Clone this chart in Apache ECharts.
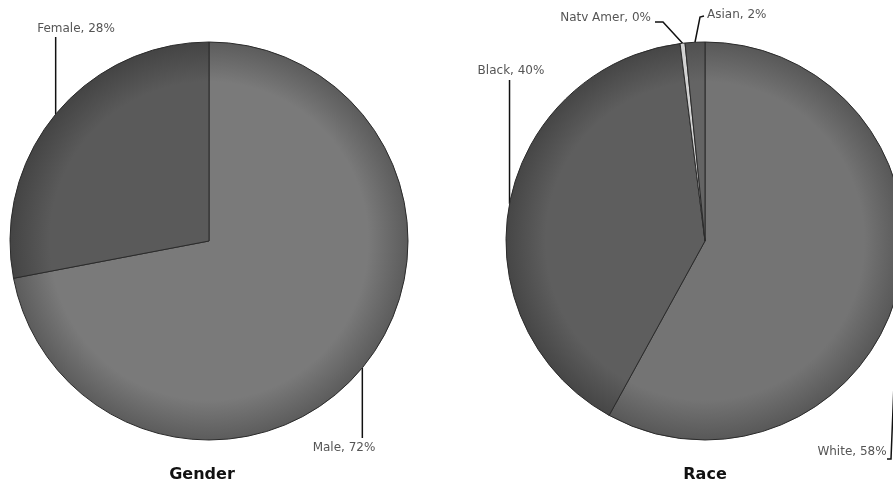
<!DOCTYPE html>
<html>
<head>
<meta charset="utf-8">
<script src="https://cdn.jsdelivr.net/npm/echarts@6/dist/echarts.min.js"></script>
<style>
  html, body { margin: 0; padding: 0; background: #fff; }
  #chart { width: 893px; height: 487px; }
</style>
</head>
<body>
<div id="chart"></div>
<script>
// data
var genderNames = ['Male', 'Female']
var genderValues = [72, 28]
var raceNames = ['White', 'Black', 'Natv Amer', 'Asian']
var raceValues = [58, 40, 0.4, 1.6]
var chartTitles = ['Gender', 'Race']

var myChart = echarts.init(document.getElementById('chart'))

// pie geometry
var centers = [[209, 241], [705, 241]]
var radius = 199

// where each label text sits and where its leader line bends (pixels), same order as the data
var labelSpots = [
  [
    { x: 344, y: 448, align: 'center', bend: function (e) { return [[e[0], 410], [e[0], 438]] } },
    { x: 76, y: 29, align: 'center', bend: function (e) { return [[e[0], 70], [e[0], 37]] } }
  ],
  [
    { x: 852, y: 452, align: 'center', bend: function (e) { return [[891, 459], [887, 459]] } },
    { x: 511, y: 71, align: 'center', bend: function (e) { return [[e[0], 120], [e[0], 80]] } },
    { x: 651, y: 18, align: 'right', bend: function (e) { return [[663, 22], [655, 22]] } },
    { x: 707, y: 15, align: 'left', bend: function (e) { return [[700, 17], [704, 16]] } }
  ]
]

// point on the rim at the middle of a slice (clockwise from 12 o'clock)
function edgePoint (values, idx, c) {
  var total = 0, before = 0
  values.forEach(function (v, i) { total += v; if (i < idx) before += v })
  var a = (before + values[idx] / 2) / total * Math.PI * 2
  return [c[0] + radius * Math.sin(a), c[1] - radius * Math.cos(a)]
}

// darker rim, shared by every slice of one pie
function shade (c, inner, outer) {
  return {
    type: 'radial', x: c[0], y: c[1], r: radius, global: true,
    colorStops: [{ offset: 0, color: inner }, { offset: 0.8, color: inner }, { offset: 1, color: outer }]
  }
}

var genderColors = [shade(centers[0], '#7a7a7a', '#5c5c5c'), shade(centers[0], '#5a5a5a', '#444444')]
var raceColors = [shade(centers[1], '#747474', '#585858'), shade(centers[1], '#5e5e5e', '#464646'), '#d2d2d2', shade(centers[1], '#646464', '#505050')]

function makeSeries (si, names, values, colors) {
  return {
    type: 'pie',
    center: centers[si],
    radius: radius,
    startAngle: 90,
    clockwise: true,
    silent: true,
    animation: false,
    avoidLabelOverlap: false,
    data: names.map(function (n, i) {
      return { name: n, value: values[i], itemStyle: { color: colors[i] } }
    }),
    itemStyle: { borderColor: '#2b2b2b', borderWidth: 1 },
    label: {
      show: true,
      position: 'outside',
      fontFamily: 'DejaVu Sans',
      fontSize: 12,
      color: '#555',
      formatter: function (p) { return p.name + ', ' + Math.round(p.percent) + '%' }
    },
    labelLine: { show: true, length: 5, length2: 5, lineStyle: { color: '#111', width: 1.5 } },
    labelLayout: function (p) {
      var spot = labelSpots[si][p.dataIndex]
      var e = edgePoint(values, p.dataIndex, centers[si])
      var b = spot.bend(e)
      return {
        x: spot.x,
        y: spot.y,
        align: spot.align,
        verticalAlign: 'middle',
        hideOverlap: false,
        labelLinePoints: [e, b[0], b[1]]
      }
    }
  }
}

var option = {
  backgroundColor: '#fff',
  title: [
    { text: chartTitles[0], left: 197, top: 462, textAlign: 'center',
      textStyle: { fontFamily: 'DejaVu Sans', fontSize: 16, fontWeight: 'bold', color: '#111' } },
    { text: chartTitles[1], left: 700, top: 462, textAlign: 'center',
      textStyle: { fontFamily: 'DejaVu Sans', fontSize: 16, fontWeight: 'bold', color: '#111' } }
  ],
  series: [
    makeSeries(0, genderNames, genderValues, genderColors),
    makeSeries(1, raceNames, raceValues, raceColors)
  ]
}

myChart.setOption(option)
</script>
</body>
</html>
